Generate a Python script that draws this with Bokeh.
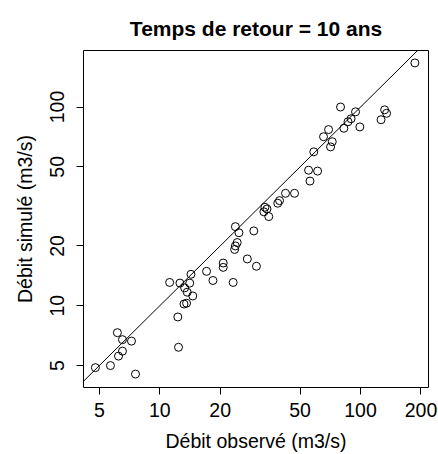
from bokeh.plotting import figure
from bokeh.models import Range1d, FixedTicker
from bokeh.embed import file_html
from bokeh.resources import INLINE

# Observed vs simulated discharge (m3/s), return period 10 years
debit_observe = [4.78, 5.68, 6.15, 6.52, 7.23, 6.52, 6.23, 7.57,
                 11.2, 12.6, 14.1, 14.3, 13.3, 13.7, 14.6, 13.2, 13.6, 12.3, 12.4,
                 17.1, 18.4, 20.7, 20.7, 23.2, 27.3, 30.3,
                 23.8, 24.8, 24.3, 23.8, 23.6, 29.4,
                 33.4, 33.0, 34.9, 34.2, 38.7, 39.5, 42.3, 46.9,
                 55.1, 61.1, 56.0, 58.5, 65.4, 69.3, 72.3, 70.9,
                 79.5, 82.6, 86.6, 89.7, 94.4, 99.2,
                 126.5, 131.8, 134.8, 186.5]
debit_simule = [4.88, 5.00, 7.32, 6.75, 6.64, 5.91, 5.58, 4.53,
                13.1, 13.0, 13.0, 14.4, 12.3, 11.7, 11.2, 10.2, 10.3, 8.78, 6.18,
                14.9, 13.4, 16.4, 15.6, 13.1, 17.2, 15.8,
                25.0, 23.3, 20.8, 20.0, 19.2, 23.8,
                31.3, 29.7, 28.1, 30.7, 32.8, 33.8, 36.8, 36.8,
                48.1, 47.6, 42.4, 59.5, 70.9, 77.0, 66.9, 63.0,
                100.0, 78.2, 84.3, 87.3, 94.6, 79.4,
                86.3, 96.8, 93.0, 166.7]

# 1:1 reference line
ligne_ref = [1, 1000]

ticks_x = [5, 10, 20, 50, 100, 200]
ticks_y = [5, 10, 20, 50, 100]

FONT = "Liberation Sans"

p = figure(width=438, height=454, x_axis_type="log", y_axis_type="log",
           x_range=Range1d(4.17, 218), y_range=Range1d(3.878, 192.5),
           output_backend="svg", toolbar_location=None,
           min_border_left=83, min_border_right=10,
           min_border_top=50, min_border_bottom=66,
           title="Temps de retour = 10 ans")

p.title.text_font = FONT
p.title.text_font_size = "21px"
p.title.text_font_style = "bold"
p.title.text_color = "black"
p.title.align = "center"
p.title.vertical_align = "middle"
p.title.standoff = 20

p.line(ligne_ref, ligne_ref, line_color="black", line_width=1)
p.scatter(debit_observe, debit_simule, marker="circle", size=8,
          fill_color=None, line_color="black", line_width=1)

p.xgrid.visible = False
p.ygrid.visible = False
p.outline_line_color = "black"
p.outline_line_width = 1
p.background_fill_color = "white"
p.border_fill_color = "white"

for ax, ticks in ((p.xaxis[0], ticks_x), (p.yaxis[0], ticks_y)):
    ax.ticker = FixedTicker(ticks=ticks, minor_ticks=[])
    ax.major_label_overrides = {t: str(t) for t in ticks}
    ax.axis_line_color = None
    ax.major_tick_line_color = "black"
    ax.major_tick_in = 0
    ax.major_tick_out = 7
    ax.minor_tick_line_color = None
    ax.major_label_text_font = FONT
    ax.major_label_text_font_size = "19.5px"
    ax.major_label_text_color = "black"
    ax.axis_label_text_font = FONT
    ax.axis_label_text_font_size = "19.5px"
    ax.axis_label_text_font_style = "normal"
    ax.axis_label_text_color = "black"

p.xaxis.axis_label = "Débit observé (m3/s)"
p.yaxis.axis_label = "Débit simulé (m3/s)"
p.xaxis.major_label_standoff = 8
p.xaxis.axis_label_standoff = 10
p.yaxis.major_label_orientation = "parallel"
p.yaxis.major_label_standoff = 12
p.yaxis.axis_label_standoff = 12

open("out.html", "w").write(file_html(p, INLINE))
